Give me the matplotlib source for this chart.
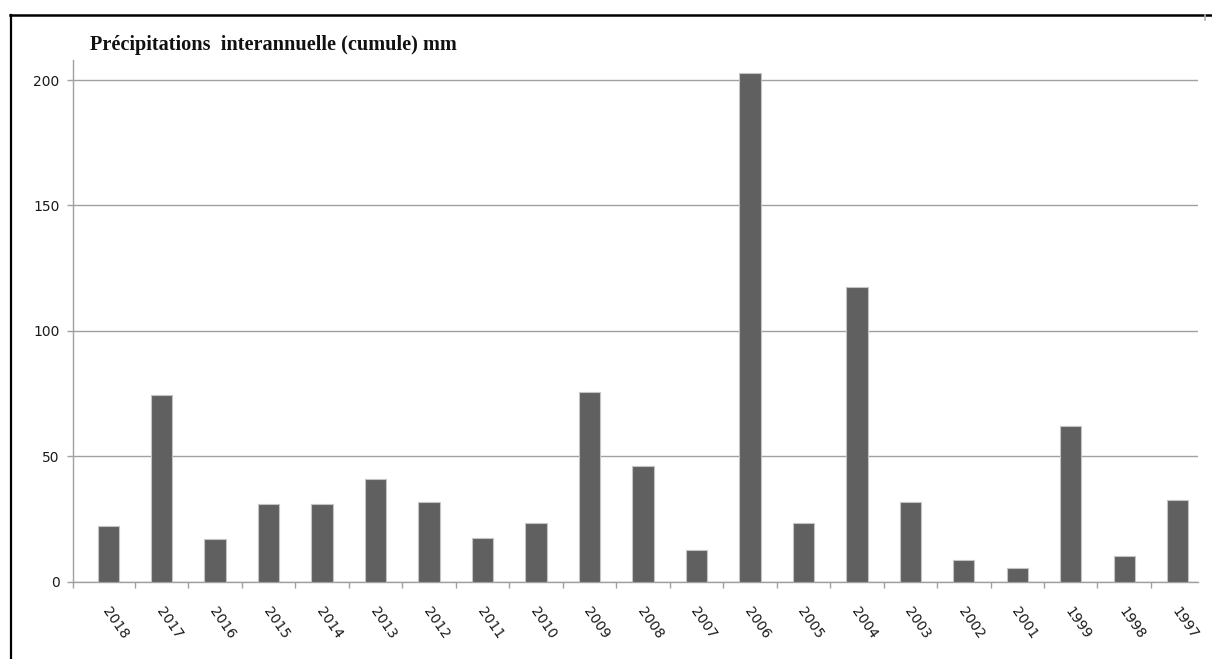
import matplotlib
matplotlib.use("Agg")
import matplotlib.pyplot as plt
import matplotlib.transforms as mtransforms
from matplotlib.lines import Line2D

years = ["2018", "2017", "2016", "2015", "2014", "2013", "2012", "2011", "2010",
         "2009", "2008", "2007", "2006", "2005", "2004", "2003", "2002", "2001",
         "1999", "1998", "1997"]
precip_mm = [22.2, 74.4, 16.9, 30.9, 30.9, 41.1, 31.9, 17.3, 23.3,
             75.5, 46.0, 12.5, 202.8, 23.3, 117.6, 31.9, 8.7, 5.3,
             62.0, 10.4, 32.5]
y_ticks = [0, 50, 100, 150, 200]
title = "Précipitations  interannuelle (cumule) mm"

W, H, DPI = 1212, 659, 100
fig = plt.figure(figsize=(W / DPI, H / DPI), dpi=DPI)
fig.patch.set_facecolor("white")

left, right = 73 / W, 1198 / W
bottom, top = 1 - 581.7 / H, 1 - 60 / H
ax = fig.add_axes([left, bottom, right - left, top - bottom])

grey = "#a0a0a0"
x = list(range(len(years)))
ax.bar(x, precip_mm, width=0.4, color="#606060", edgecolor="#c4c4c4",
       linewidth=0.8, zorder=3)

ax.set_xlim(-0.659, 20.38)
ax.set_ylim(0, 208)

# y axis
ax.set_yticks(y_ticks)
ax.set_yticklabels([str(v) for v in y_ticks], family="DejaVu Sans",
                   fontsize=10, color="#1a1a1a")
ax.tick_params(axis="y", length=4.3, width=1.0, color=grey, pad=5.5)
ax.yaxis.grid(True, color=grey, linewidth=1.0, zorder=0)

# x axis: labels at category centres, ticks at category boundaries
ax.set_xticks(x)
ax.set_xticklabels(years, family="DejaVu Sans", fontsize=10,
                   color="#1a1a1a", rotation=-55, ha="left",
                   rotation_mode="anchor")
ax.tick_params(axis="x", which="major", length=0, pad=16.5)
ax.set_xticks([i + 0.5 for i in range(len(years) - 1)] + [-0.659], minor=True)
ax.tick_params(axis="x", which="minor", length=4, width=1.0, color=grey)
offset = mtransforms.ScaledTranslation(3 / DPI, 0, fig.dpi_scale_trans)
for lbl in ax.get_xticklabels():
    lbl.set_transform(lbl.get_transform() + offset)

for side in ("top", "right"):
    ax.spines[side].set_visible(False)
for side in ("left", "bottom"):
    ax.spines[side].set_color(grey)
    ax.spines[side].set_linewidth(1.0)
ax.set_axisbelow(True)

fig.text(90 / W, 1 - 45 / H, title, family="Liberation Serif",
         fontweight="bold", fontsize=14.6, va="center", ha="left",
         color="#111111")

# frame lines along the top and left
fig.add_artist(Line2D([10 / W, 1.0], [1 - 14.5 / H, 1 - 14.5 / H],
                      color="black", linewidth=1.8))
fig.add_artist(Line2D([11 / W, 11 / W], [0, 1 - 14.5 / H],
                      color="black", linewidth=1.6))
fig.add_artist(Line2D([1205 / W, 1205 / W], [1 - 15 / H, 1 - 20 / H],
                      color="#b0b0b0", linewidth=1.2))

fig.savefig("out.png", dpi=DPI, facecolor="white")
